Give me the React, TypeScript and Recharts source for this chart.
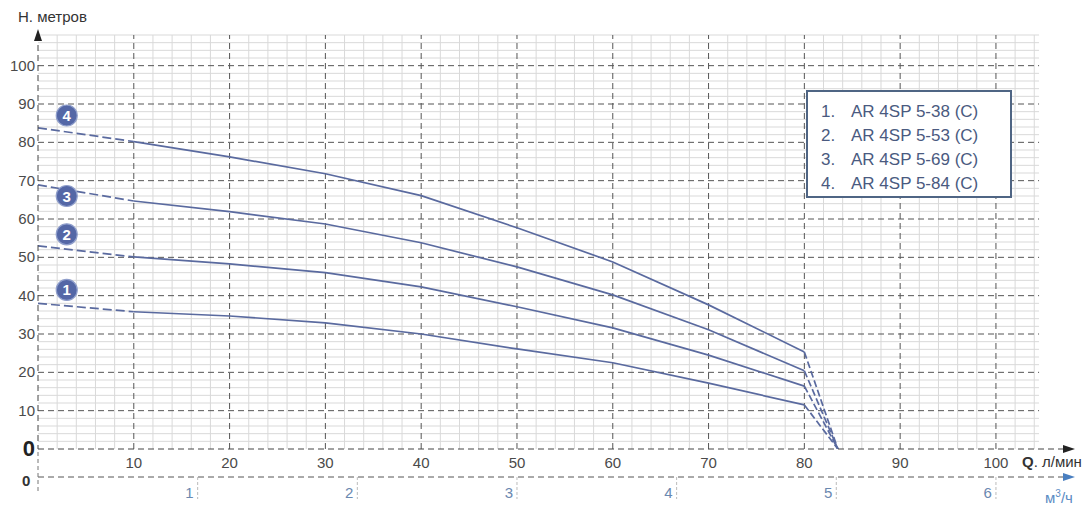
import React from "react";
import {
  ComposedChart,
  Line,
  Scatter,
  XAxis,
  YAxis,
  ReferenceLine,
} from "recharts";

// flow points along the curves, l/min
const flowLpm = [0, 10, 20, 30, 40, 50, 60, 70, 80];
// point where all curves drop to zero head
const shutoffQ = 83.5;

const head38 = [38, 35.8, 34.7, 32.9, 30, 26.1, 22.5, 17.2, 11.5];
const head53 = [53, 50.1, 48.3, 46, 42.3, 37.1, 31.6, 24.5, 16.4];
const head69 = [68.9, 64.7, 61.9, 58.7, 53.8, 47.5, 40.2, 31.1, 20.4];
const head84 = [83.8, 80.2, 76.2, 71.8, 66.1, 57.7, 48.8, 37.6, 25.3];

const models = ["AR 4SP 5-38 (C)", "AR 4SP 5-53 (C)", "AR 4SP 5-69 (C)", "AR 4SP 5-84 (C)"];

const badgeX = [3, 3, 3, 3];
const badgeY = [41.5, 56, 66, 87];

const yTicks = [0, 10, 20, 30, 40, 50, 60, 70, 80, 90, 100];
const xTicks = [10, 20, 30, 40, 50, 60, 70, 80, 90, 100];
const m3Ticks = [1, 2, 3, 4, 5, 6];

const X_MAX = 107;
const Y_MAX = 108;
const LPM_PER_M3H = 1000 / 60;

const LINE = "#5a6a9f";
const FONT = "'Liberation Sans Narrow', 'Liberation Sans', Arial, sans-serif";

const minorX = Array.from({ length: 53 }, (_, i) => i * 2).filter((v) => v % 10 !== 0);
const minorY = Array.from({ length: 55 }, (_, i) => i * 2).filter((v) => v % 10 !== 0);
const majorX = [10, 20, 30, 40, 50, 60, 70, 80, 90, 100];
const majorY = [10, 20, 30, 40, 50, 60, 70, 80, 90, 100];

const series = [
  { key: "c1", values: head38 },
  { key: "c2", values: head53 },
  { key: "c3", values: head69 },
  { key: "c4", values: head84 },
];

const rows: Record<string, number | null>[] = flowLpm.map((q, i) => {
  const r: Record<string, number | null> = { q };
  series.forEach((s) => {
    r[s.key + "a"] = i <= 1 ? s.values[i] : null;
    r[s.key + "b"] = i >= 1 ? s.values[i] : null;
    r[s.key + "c"] = i === flowLpm.length - 1 ? s.values[i] : null;
  });
  return r;
});
const endRow: Record<string, number | null> = { q: shutoffQ };
series.forEach((s) => {
  endRow[s.key + "a"] = null;
  endRow[s.key + "b"] = null;
  endRow[s.key + "c"] = 0;
});
rows.push(endRow);

const badges = badgeX.map((x, i) => ({ q: x, y: badgeY[i], n: i + 1 }));

const YTick = (props: any) => {
  const { x, y, payload } = props;
  const zero = payload.value === 0;
  return (
    <text
      x={x - 3}
      y={y}
      dy={zero ? 7 : 5}
      textAnchor="end"
      fontFamily={FONT}
      fontSize={zero ? 22 : 15}
      fontWeight={zero ? 700 : 400}
      fill={zero ? "#222" : "#4a4a4a"}
    >
      {payload.value}
    </text>
  );
};

const XTick = (props: any) => {
  const { x, y, payload } = props;
  return (
    <text x={x} y={y} dy={19} textAnchor="middle" fontFamily={FONT} fontSize={15} fill="#4a4a4a">
      {payload.value}
    </text>
  );
};

const M3Tick = (props: any) => {
  const { x, y, payload } = props;
  return (
    <g>
      <line x1={x} x2={x} y1={y} y2={y + 22} stroke="#bbb" strokeDasharray="3 2" />
      <text x={x - 4} y={y} dy={21} textAnchor="end" fontFamily={FONT} fontSize={15} fill="#6a88b0">
        {Math.round(payload.value / LPM_PER_M3H)}
      </text>
    </g>
  );
};

const Badge = (props: any) => {
  const { cx, cy, payload } = props;
  return (
    <g>
      <circle cx={cx} cy={cy} r={10.5} fill="#5467a6" stroke="#8f9ecb" strokeWidth={1.2} />
      <text
        x={cx}
        y={cy}
        dy={5.5}
        textAnchor="middle"
        fontFamily="Arial, sans-serif"
        fontWeight={700}
        fontSize={15}
        fill="#fff"
      >
        {payload.n}
      </text>
    </g>
  );
};

export default function App() {
  return (
    <div style={{ position: "relative", width: 1087, height: 511, background: "#fff", fontFamily: FONT }}>
      <style>{"body{margin:0}"}</style>
      <ComposedChart
        width={1087}
        height={511}
        data={rows}
        margin={{ top: 35, right: 24, left: 0, bottom: 0 }}
      >
        <XAxis
          dataKey="q"
          type="number"
          domain={[0, X_MAX]}
          ticks={xTicks}
          allowDataOverflow
          height={28}
          tickLine={false}
          tickSize={0}
          tickMargin={0}
          axisLine={{ stroke: "#444", strokeDasharray: "6 4" }}
          tick={<XTick />}
        />
        <XAxis
          xAxisId="m3"
          dataKey="q"
          type="number"
          domain={[0, X_MAX]}
          ticks={m3Ticks.map((v) => v * LPM_PER_M3H)}
          allowDataOverflow
          height={34}
          tickLine={false}
          tickSize={0}
          tickMargin={0}
          axisLine={{ stroke: "#555", strokeDasharray: "6 4" }}
          tick={<M3Tick />}
        />
        <YAxis
          type="number"
          domain={[0, Y_MAX]}
          ticks={yTicks}
          allowDataOverflow
          width={38}
          tickLine={false}
          tickSize={0}
          tickMargin={0}
          axisLine={{ stroke: "#444", strokeDasharray: "6 4" }}
          tick={<YTick />}
        />

        {minorY.map((v) => (
          <ReferenceLine
            key={"my" + v}
            segment={[{ x: 0, y: v }, { x: 104.5, y: v }]}
            stroke="#d9d9d9"
            strokeWidth={1}
          />
        ))}
        {minorX.map((v) => (
          <ReferenceLine key={"mx" + v} x={v} stroke="#d9d9d9" strokeWidth={1} />
        ))}
        {majorY.map((v) => (
          <ReferenceLine
            key={"My" + v}
            segment={[{ x: 0, y: v }, { x: 104.5, y: v }]}
            stroke="#555"
            strokeDasharray="6 4"
          />
        ))}
        {majorX.map((v) => (
          <ReferenceLine key={"Mx" + v} x={v} stroke="#555" strokeDasharray="6 4" />
        ))}

        {series.map((s) => (
          <Line
            key={s.key + "a"}
            dataKey={s.key + "a"}
            type="linear"
            stroke={LINE}
            strokeWidth={1.7}
            strokeDasharray="9 4"
            dot={false}
            activeDot={false}
            isAnimationActive={false}
          />
        ))}
        {series.map((s) => (
          <Line
            key={s.key + "b"}
            dataKey={s.key + "b"}
            type="linear"
            stroke={LINE}
            strokeWidth={1.7}
            dot={false}
            activeDot={false}
            isAnimationActive={false}
          />
        ))}
        {series.map((s) => (
          <Line
            key={s.key + "c"}
            dataKey={s.key + "c"}
            type="linear"
            stroke={LINE}
            strokeWidth={1.7}
            strokeDasharray="7 3"
            dot={false}
            activeDot={false}
            isAnimationActive={false}
          />
        ))}
        <Scatter data={badges} dataKey="y" shape={<Badge />} isAnimationActive={false} />
      </ComposedChart>

      <svg
        width={1087}
        height={511}
        style={{ position: "absolute", left: 0, top: 0, pointerEvents: "none" }}
      >
        <polygon points="38,29 34,41 42,41" fill="#222" />
        <polygon points="1075,449 1063,445 1063,453" fill="#222" />
        <polygon points="1075,477 1063,473 1063,481" fill="#4a7fc0" />
        <line x1={38} x2={38} y1={452} y2={492} stroke="#777" strokeDasharray="4 3" />
        <text x={18} y={22} fontFamily={FONT} fontSize={15} fill="#333">
          Н. метров
        </text>
        <text x={1022} y={467} fontFamily={FONT} fontSize={15} fill="#333">
          <tspan fontWeight={700}>Q</tspan>. л/мин
        </text>
        <text x={1045} y={503} fontFamily={FONT} fontSize={15} fill="#5b8cc4">
          м<tspan dy={-6} fontSize={10}>3</tspan>
          <tspan dy={6}>/ч</tspan>
        </text>
        <text x={22} y={486} fontFamily={FONT} fontSize={15} fontWeight={700} fill="#333">
          0
        </text>
      </svg>

      <div
        style={{
          position: "absolute",
          left: 806,
          top: 90,
          width: 206,
          height: 108,
          border: "2px solid #4f6584",
          background: "#fff",
          color: "#4a5a80",
          fontSize: 17,
          lineHeight: "24px",
          paddingTop: 8,
          boxSizing: "border-box",
        }}
      >
        {models.map((m, i) => (
          <div key={m} style={{ display: "flex", paddingLeft: 13 }}>
            <span style={{ width: 30 }}>{i + 1}.</span>
            <span>{m}</span>
          </div>
        ))}
      </div>
    </div>
  );
}
